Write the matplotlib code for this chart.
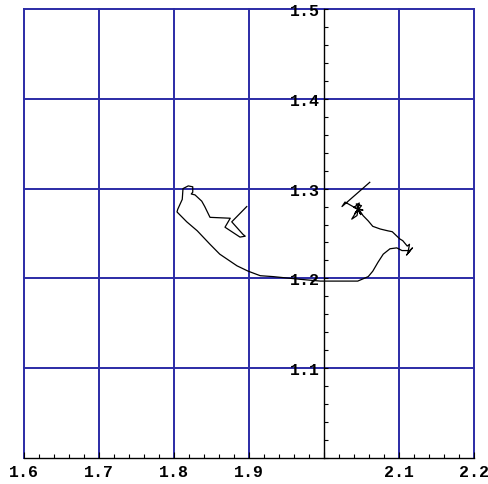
import matplotlib
matplotlib.use("Agg")
import matplotlib.pyplot as plt
from matplotlib.ticker import MultipleLocator

# trajectory
traj_x = [1.897, 1.877, 1.892, 1.895, 1.888, 1.868, 1.875, 1.848, 1.841, 1.837,
          1.828, 1.823, 1.825, 1.825, 1.819, 1.812, 1.811, 1.805, 1.804, 1.817,
          1.831, 1.848, 1.861, 1.884, 1.899, 1.915, 1.932, 1.968, 1.995, 2.045,
          2.059, 2.065, 2.072, 2.079, 2.088, 2.097, 2.104, 2.115, 2.110, 2.118,
          2.112, 2.114, 2.111, 2.105, 2.101, 2.091, 2.085, 2.075, 2.065, 2.059,
          2.052, 2.048, 2.045, 2.041, 2.050, 2.043, 2.049, 2.045, 2.052, 2.040,
          2.047, 2.044, 2.037, 2.045, 2.028, 2.024, 2.061]
traj_y = [1.280, 1.263, 1.249, 1.247, 1.246, 1.257, 1.267, 1.268, 1.280, 1.286,
          1.293, 1.294, 1.296, 1.302, 1.303, 1.300, 1.288, 1.277, 1.274, 1.263,
          1.253, 1.238, 1.227, 1.214, 1.208, 1.203, 1.202, 1.199, 1.197, 1.197,
          1.202, 1.208, 1.218, 1.227, 1.233, 1.234, 1.231, 1.231, 1.226, 1.234,
          1.229, 1.238, 1.236, 1.242, 1.244, 1.252, 1.253, 1.255, 1.258, 1.264,
          1.270, 1.275, 1.277, 1.272, 1.281, 1.283, 1.271, 1.277, 1.276, 1.279,
          1.284, 1.270, 1.266, 1.277, 1.285, 1.280, 1.307]

x_ticks = [1.6, 1.7, 1.8, 1.9, 2.0, 2.1, 2.2]
x_labels = ["1.6", "1.7", "1.8", "1.9", "", "2.1", "2.2"]
y_ticks = [1.0, 1.1, 1.2, 1.3, 1.4, 1.5]
y_labels = ["", "1.1", "1.2", "1.3", "1.4", "1.5"]

grid_color = "#2b2ba6"

fig = plt.figure(figsize=(4.88, 4.85), dpi=100)
ax = fig.add_axes([24 / 488, 26 / 485, 450 / 488, 449 / 485])
ax.set_xlim(1.6, 2.2)
ax.set_ylim(1.0, 1.5)

# blue grid
for gx in x_ticks:
    if gx != 2.0:
        ax.axvline(gx, color=grid_color, linewidth=1.4, zorder=1, clip_on=False)
for gy in y_ticks:
    if gy != 1.0:
        ax.axhline(gy, color=grid_color, linewidth=1.4, zorder=1, clip_on=False)

ax.plot(traj_x, traj_y, color="black", linewidth=0.9, zorder=3)

# axes crossing at x = 2.0
ax.spines["top"].set_visible(False)
ax.spines["right"].set_visible(False)
ax.spines["left"].set_position(("data", 2.0))
ax.spines["left"].set_zorder(2)
ax.spines["bottom"].set_zorder(2)
for sp in ("left", "bottom"):
    ax.spines[sp].set_linewidth(1.0)

mono = dict(family="Liberation Mono", weight="bold", size=12)
ax.set_xticks(x_ticks)
ax.set_xticklabels(x_labels, fontdict=mono)
ax.set_yticks(y_ticks)
ax.set_yticklabels(y_labels, fontdict=mono)
ax.xaxis.set_minor_locator(MultipleLocator(0.02))
ax.yaxis.set_minor_locator(MultipleLocator(0.02))
ax.tick_params(axis="x", which="both", direction="in", length=3, width=0.8, pad=4)
ax.tick_params(axis="y", which="both", direction="in", length=3, width=0.8, pad=3)
ax.tick_params(axis="x", which="major", length=4)

fig.savefig("out.png", dpi=100)
